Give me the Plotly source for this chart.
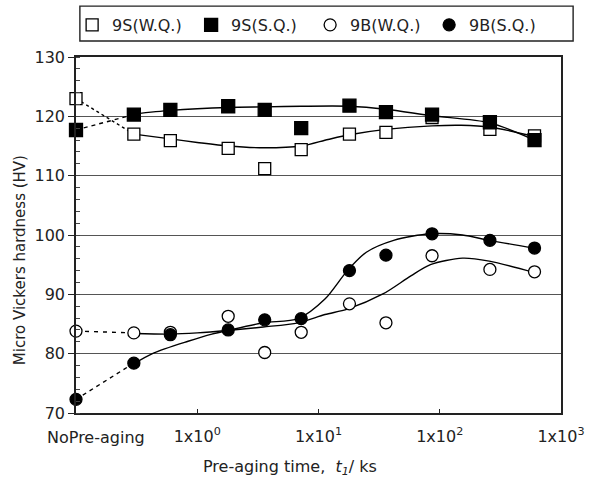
import plotly.graph_objects as go

# ---------------- data ----------------
NO_PREAGING_X = 0.1  # position used for the "NoPre-aging" category on the log axis
times = [0.3, 0.6, 1.8, 3.6, 7.2, 18, 36, 86.4, 259.2, 604.8]

s9_wq_nopre = 123.0
s9_wq = [117.0, 115.9, 114.6, 111.2, 114.4, 117.0, 117.3, 119.8, 117.8, 116.7]
s9_sq_nopre = 117.7
s9_sq = [120.3, 121.1, 121.7, 121.1, 118.0, 121.8, 120.7, 120.3, 119.0, 116.0]
b9_wq_nopre = 83.8
b9_wq = [83.5, 83.6, 86.3, 80.2, 83.6, 88.4, 85.2, 96.5, 94.2, 93.8]
b9_sq_nopre = 72.3
b9_sq = [78.4, 83.2, 84.0, 85.7, 85.9, 94.0, 96.6, 100.2, 99.1, 97.8]

# fitted curves
fit_s9_wq_t = [0.3, 0.6, 1.0, 1.8, 3.6, 7.2, 12, 18, 36, 86.4, 150, 259.2, 604.8]
fit_s9_wq_v = [117.0, 116.2, 115.6, 115.0, 114.7, 115.0, 116.1, 116.9, 117.8, 118.4, 118.5, 118.2, 116.6]
fit_s9_sq_t = [0.3, 0.6, 1.8, 3.6, 7.2, 18, 36, 86.4, 259.2, 604.8]
fit_s9_sq_v = [120.4, 121.0, 121.5, 121.6, 121.7, 121.7, 121.2, 120.1, 118.9, 116.0]
fit_b9_sq_t = [0.3, 0.435, 0.84, 1.32, 1.77, 3.5, 6.8, 11.3, 17.3, 24.8, 41.7, 83.8, 154, 256, 596]
fit_b9_sq_v = [78.3, 80.1, 82.1, 83.3, 83.9, 85.2, 85.9, 89.2, 94.0, 97.1, 99.1, 100.2, 100.0, 99.1, 97.8]
fit_b9_wq_t = [0.3, 0.6, 1.0, 1.77, 3.5, 6.8, 11.3, 17.3, 34.3, 57.8, 83.8, 154, 256, 596]
fit_b9_wq_v = [83.4, 83.3, 83.5, 83.9, 84.5, 85.2, 86.6, 87.5, 90.1, 93.1, 95.0, 96.1, 95.6, 93.7]

x_tickvals = [1, 10, 100, 1000]
x_ticktext = ["1x10<sup>0</sup>", "1x10<sup>1</sup>", "1x10<sup>2</sup>", "1x10<sup>3</sup>"]
y_tickvals = [70, 80, 90, 100, 110, 120, 130]

FONT = "DejaVu Sans"
fig = go.Figure()

# connectors from "no pre-aging" to the first point
def connector(v0, v1, dash):
    fig.add_trace(go.Scatter(x=[NO_PREAGING_X, times[0]], y=[v0, v1], mode="lines",
                             line=dict(color="black", width=1.4, dash=dash),
                             showlegend=False, hoverinfo="skip", cliponaxis=False))

connector(s9_wq_nopre, s9_wq[0], "dot")
connector(s9_sq_nopre, s9_sq[0], "4px,4px")
connector(b9_wq_nopre, b9_wq[0], "4px,5px")
connector(b9_sq_nopre, b9_sq[0], "4px,4px")

# fitted curves
for tx, vy in [(fit_s9_wq_t, fit_s9_wq_v), (fit_s9_sq_t, fit_s9_sq_v),
               (fit_b9_sq_t, fit_b9_sq_v), (fit_b9_wq_t, fit_b9_wq_v)]:
    fig.add_trace(go.Scatter(x=tx, y=vy, mode="lines", line=dict(color="black", width=1.4, shape="spline", smoothing=0.8),
                             showlegend=False, hoverinfo="skip"))

def markers(name, nopre, vals, symbol, fill, size):
    fig.add_trace(go.Scatter(x=[NO_PREAGING_X] + times, y=[nopre] + vals, mode="markers", name=name,
                             marker=dict(symbol=symbol, size=size, color=fill,
                                         line=dict(color="black", width=1.3)),
                             cliponaxis=False))

markers("9S(W.Q.)", s9_wq_nopre, s9_wq, "square", "white", 12)
markers("9S(S.Q.)", s9_sq_nopre, s9_sq, "square", "black", 13)
markers("9B(W.Q.)", b9_wq_nopre, b9_wq, "circle", "white", 12)
markers("9B(S.Q.)", b9_sq_nopre, b9_sq, "circle", "black", 12)

fig.update_layout(
    width=589, height=489,
    margin=dict(l=76, r=28, t=57, b=76, autoexpand=False),
    paper_bgcolor="white", plot_bgcolor="white",
    font=dict(family=FONT, color="#222", size=15),
    showlegend=True,
    legend=dict(orientation="h", x=-0.008, y=1.09, xanchor="left", yanchor="middle",
                borderwidth=0, bgcolor="rgba(0,0,0,0)",
                font=dict(family=FONT, size=16, color="#222"),
                itemwidth=30, entrywidth=74, entrywidthmode="pixels",
                traceorder="normal"),
    shapes=[dict(type="rect", xref="paper", yref="paper", x0=0.008, x1=1.025, y0=1.045, y1=1.143,
                 line=dict(color="#222", width=1.4), fillcolor="rgba(0,0,0,0)", layer="below")],
    xaxis=dict(type="log", range=[-1, 3.0], tickvals=x_tickvals, ticktext=x_ticktext,
               ticks="inside", ticklen=4, tickcolor="#222", tickwidth=1,
               showline=True, linecolor="#222", linewidth=1.5, mirror=True,
               showgrid=False, zeroline=False, ticklabelstandoff=8,
               tickfont=dict(family=FONT, size=16, color="#222")),
    yaxis=dict(range=[70, 130], tickvals=y_tickvals, ticks="outside", ticklen=6,
               tickcolor="#222", showline=True, linecolor="#222", linewidth=1.5, mirror=True,
               showgrid=True, gridcolor="#555", gridwidth=1, zeroline=False,
               minor=dict(ticks="inside", dtick=2, ticklen=4, tickcolor="#444", showgrid=False),
               tickfont=dict(family=FONT, size=16, color="#222")),
    annotations=[
        dict(text="NoPre-aging", xref="paper", yref="paper", x=0.041, y=-0.07,
             xanchor="center", yanchor="middle", showarrow=False,
             font=dict(family=FONT, size=16, color="#222")),
        dict(text="Pre-aging time,  <i>t</i><sub><i>1</i></sub>/ ks", xref="paper", yref="paper",
             x=0.441, y=-0.152, xanchor="center", yanchor="middle", showarrow=False,
             font=dict(family=FONT, size=16, color="#222")),
        dict(text="Micro Vickers hardness (HV)", xref="paper", yref="paper", x=-0.115, y=0.43,
             xanchor="center", yanchor="middle", textangle=-90, showarrow=False,
             font=dict(family=FONT, size=15, color="#222")),
    ],
)

fig.write_html("out.html")
